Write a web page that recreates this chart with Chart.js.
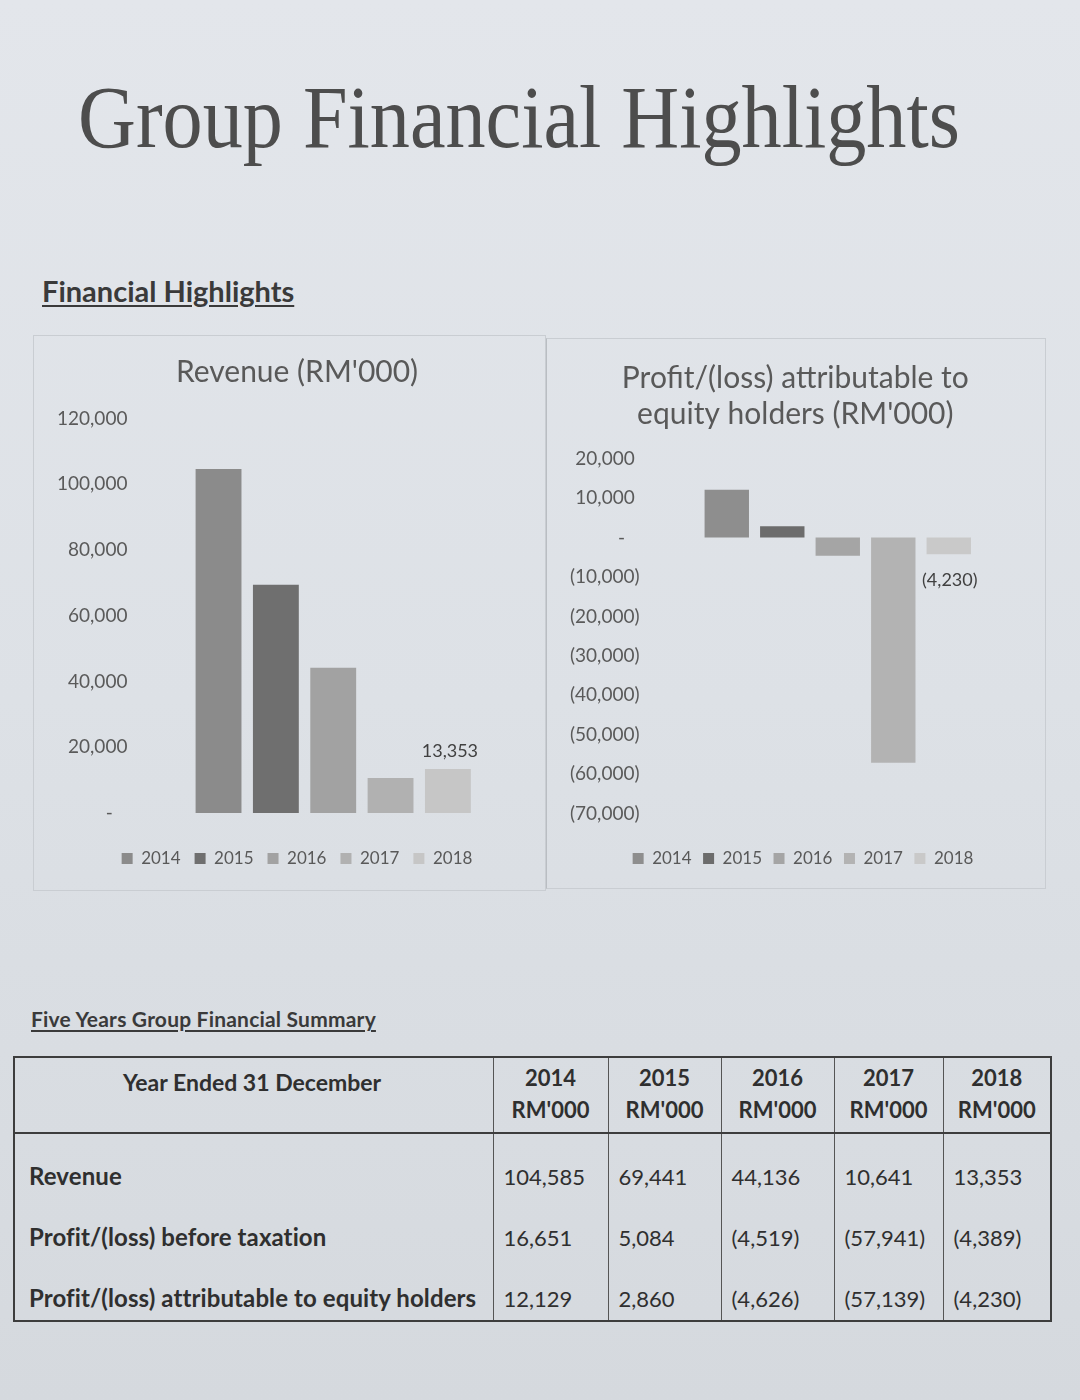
<!DOCTYPE html>
<html>
<head>
<meta charset="utf-8">
<script src="https://cdn.jsdelivr.net/npm/chart.js@4.4.1/dist/chart.umd.min.js"></script>
<style>
  html, body { margin: 0; padding: 0; }
  body {
    width: 1080px; height: 1400px; position: relative; overflow: hidden;
    background: linear-gradient(180deg, #e3e6eb 0%, #dde1e6 50%, #d5d9de 100%);
    font-family: Lato, "Open Sans", sans-serif;
  }
  #pageTitle {
    position: absolute; left: 78px; top: 68px; margin: 0;
    font-family: "Liberation Serif", "DejaVu Serif", serif; font-weight: normal;
    font-size: 88px; line-height: 100px; color: #4d4d4d; white-space: nowrap;
    transform-origin: left top;
  }
  .heading {
    position: absolute; margin: 0; font-weight: bold; color: #3a3a3a;
    text-decoration: underline; text-underline-offset: 3px; white-space: nowrap;
  }
  #h1 { left: 42px; top: 273px; font-size: 29px; }
  #h2 { left: 31px; top: 1006px; font-size: 21px; letter-spacing: 0.2px; }
  .panel { position: absolute; border: 1px solid #c9cdd2; }
  #leftPanel { left: 33px; top: 335px; width: 511px; height: 554px; }
  #rightPanel { left: 546px; top: 338px; width: 498px; height: 549px; border-left-color: #b9bdc2; }
  .panel canvas { display: block; }
  #summary {
    position: absolute; left: 13px; top: 1056px; width: 1037px; table-layout: fixed;
    border-collapse: collapse; border: 2px solid #3d3d3d; color: #2f2f2f;
    font-family: Lato, sans-serif; font-size: 22px; white-space: nowrap;
  }
  #summary th, #summary td { border-left: 1px solid #555; padding: 0 10px; }
  #summary thead th { height: 66px; font-weight: bold; text-align: center; vertical-align: top; padding-top: 4px; line-height: 32px; border-bottom: 2px solid #3d3d3d; }
  #summary thead th.label { text-align: left; padding-left: 108px; padding-top: 8px; font-size: 23px; }
  #summary tbody td { height: 53px; vertical-align: bottom; padding-bottom: 8px; text-align: left; }
  #summary tbody tr:first-child td { height: 56px; }
  #summary tbody td.label { font-weight: bold; padding-left: 14px; font-size: 24px; letter-spacing: 0.1px; }
</style>
</head>
<body>
<h1 id="pageTitle">Group Financial Highlights</h1>
<div class="heading" id="h1">Financial Highlights</div>
<div class="panel" id="leftPanel"><canvas id="revenueChart" width="511" height="554"></canvas></div>
<div class="panel" id="rightPanel"><canvas id="profitChart" width="498" height="549"></canvas></div>
<div class="heading" id="h2">Five Years Group Financial Summary</div>
<table id="summary">
  <colgroup><col style="width:479px"><col style="width:115px"><col style="width:113px"><col style="width:113px"><col style="width:109px"><col style="width:108px"></colgroup>
  <thead><tr id="headRow"><th class="label">Year Ended 31 December</th></tr></thead>
  <tbody id="bodyRows"></tbody>
</table>

<script>
const years = ["2014", "2015", "2016", "2017", "2018"];
const revenue = [104585, 69441, 44136, 10641, 13353];
const profitBeforeTax = [16651, 5084, -4519, -57941, -4389];
const profitAttributable = [12129, 2860, -4626, -57139, -4230];
const revenueTicks = [0, 20000, 40000, 60000, 80000, 100000, 120000];
const profitTicks = [20000, 10000, 0, -10000, -20000, -30000, -40000, -50000, -60000, -70000];

const revenueColors = ["#8b8b8b", "#6f6f6f", "#a2a2a2", "#b1b1b1", "#c6c6c6"];
const profitColors = ["#8e8e8e", "#6c6c6c", "#a5a5a5", "#b3b3b3", "#c9c9c9"];

const fmt = (v) => Math.abs(v).toLocaleString("en-US");
const acct = (v) => (v < 0 ? "(" + fmt(v) + ")" : fmt(v));

// stretch the big title to the width it has on the page
const title = document.getElementById("pageTitle");
title.style.transform = "scaleX(" + (882 / title.scrollWidth) + ")";

// table
const headRow = document.getElementById("headRow");
years.forEach((y) => {
  const th = document.createElement("th");
  th.innerHTML = y + "<br>RM'000";
  headRow.appendChild(th);
});
const rows = [
  ["Revenue", revenue],
  ["Profit/(loss) before taxation", profitBeforeTax],
  ["Profit/(loss) attributable to equity holders", profitAttributable],
];
const bodyRows = document.getElementById("bodyRows");
rows.forEach(([name, vals]) => {
  const tr = document.createElement("tr");
  tr.innerHTML = '<td class="label">' + name + "</td>" + vals.map((v) => "<td>" + acct(v) + "</td>").join("");
  bodyRows.appendChild(tr);
});

// label only the last bar, like the original
const lastBarLabel = {
  id: "lastBarLabel",
  afterDatasetsDraw(chart) {
    const ctx = chart.ctx;
    const i = chart.data.datasets.length - 1;
    const bar = chart.getDatasetMeta(i).data[0];
    const v = chart.data.datasets[i].data[0];
    ctx.save();
    ctx.font = "18px Lato";
    ctx.fillStyle = "#404040";
    ctx.textAlign = "center";
    if (v >= 0) {
      ctx.textBaseline = "bottom";
      ctx.fillText(acct(v), bar.x + 2, bar.y - 9);
    } else {
      ctx.textBaseline = "top";
      ctx.fillText(acct(v), bar.x + 1, bar.y + 17);
    }
    ctx.restore();
  },
};

Chart.defaults.font.family = "Lato";
Chart.defaults.color = "#5a5a5a";

function makeChart(id, titleText, values, colors, ticks, tickLabel, o) {
  return new Chart(document.getElementById(id), {
    type: "bar",
    data: {
      labels: [""],
      datasets: years.map((y, i) => ({
        label: y,
        data: [values[i]],
        backgroundColor: colors[i],
        barPercentage: 0.8,
        categoryPercentage: o.cat,
      })),
    },
    options: {
      responsive: false,
      animation: false,
      layout: { padding: o.layout },
      plugins: {
        title: {
          display: true,
          text: titleText,
          font: { size: 30, weight: "normal", lineHeight: 1.18 },
          color: "#595959",
          padding: o.title,
        },
        legend: {
          position: "bottom",
          labels: { boxWidth: 11, boxHeight: 11, font: { size: 17 }, color: "#595959", padding: o.legend },
        },
        tooltip: { enabled: false },
      },
      scales: {
        x: {
          grid: { display: false, drawTicks: false }, border: { display: false }, ticks: { display: false },
          afterFit: (s) => { s.height = o.xh; },
        },
        y: {
          min: Math.min(...ticks),
          max: Math.max(...ticks),
          afterBuildTicks: (axis) => { axis.ticks = ticks.map((v) => ({ value: v })); },
          grid: { display: false, drawTicks: false },
          border: { display: false },
          ticks: { font: { size: 19 }, color: "#5a5a5a", padding: o.tickPad, callback: tickLabel },
        },
      },
    },
    plugins: [lastBarLabel],
  });
}

makeChart(
  "revenueChart",
  "Revenue (RM'000)",
  revenue,
  revenueColors,
  revenueTicks,
  (v) => (v === 0 ? "-   " : fmt(v)),
  { cat: 0.7, layout: { left: 22, right: 7, top: 10, bottom: 13 }, title: { top: 9, bottom: 28 }, legend: 14, tickPad: 1, xh: 23 }
);

makeChart(
  "profitChart",
  ["Profit/(loss) attributable to  ", "equity holders (RM'000)  "],
  profitAttributable,
  profitColors,
  profitTicks,
  (v) => (v === 0 ? "-   " : v < 0 ? acct(v) : fmt(v) + " "),
  { cat: 0.7, layout: { left: 23, right: 9, top: 10, bottom: 11 }, title: { top: 12, bottom: 27 }, legend: 11.5, tickPad: 0, xh: 25 }
);
</script>
</body>
</html>
